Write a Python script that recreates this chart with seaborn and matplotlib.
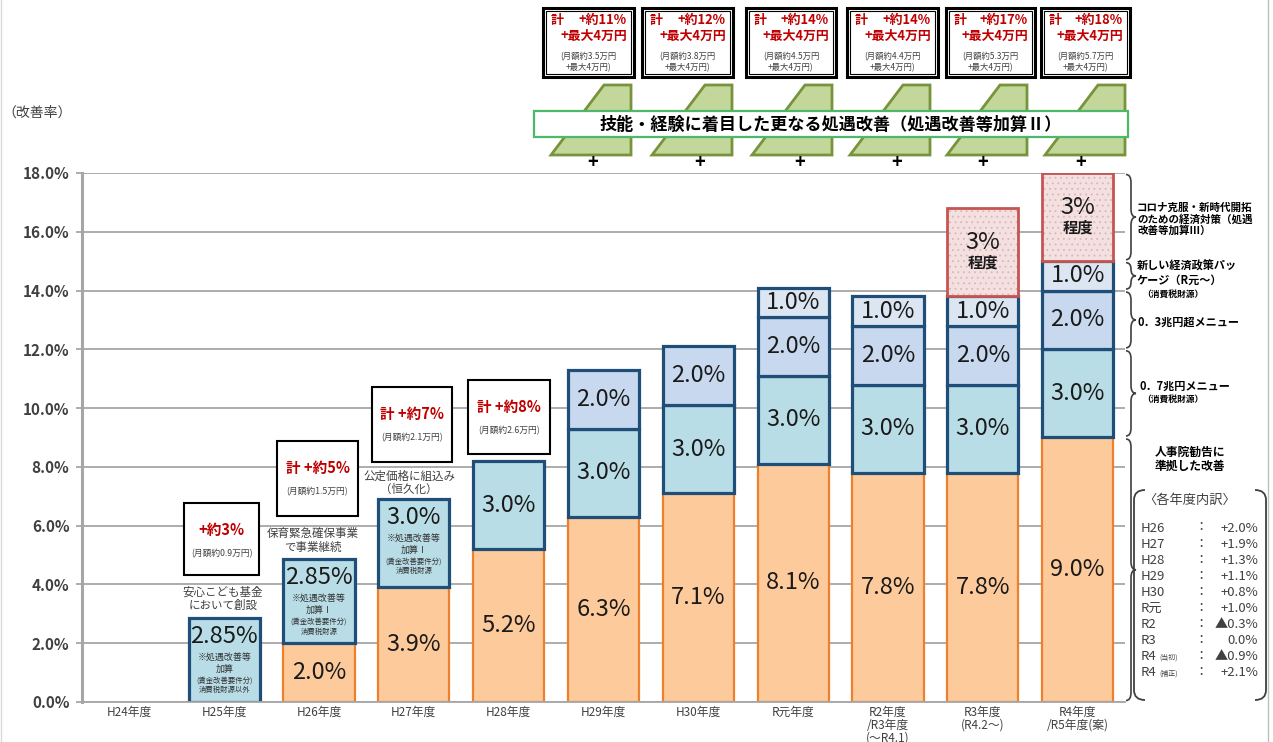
import numpy as np
import pandas as pd
import matplotlib.pyplot as plt
import seaborn as sns
from matplotlib.patches import Rectangle, Polygon, PathPatch
from matplotlib.path import Path

# データ
years = ["H24年度", "H25年度", "H26年度", "H27年度", "H28年度", "H29年度", "H30年度",
         "R元年度", "R2年度\n/R3年度\n(～R4.1)", "R3年度\n(R4.2～)", "R4年度\n/R5年度(案)"]
jinjiin = [0, 0, 2.0, 3.9, 5.2, 6.3, 7.1, 8.1, 7.8, 7.8, 9.0]
kasan1 = [0, 2.85, 2.85, 3.0, 3.0, 3.0, 3.0, 3.0, 3.0, 3.0, 3.0]
menu03 = [0, 0, 0, 0, 0, 2.0, 2.0, 2.0, 2.0, 2.0, 2.0]
keizai = [0, 0, 0, 0, 0, 0, 0, 1.0, 1.0, 1.0, 1.0]
corona = [0, 0, 0, 0, 0, 0, 0, 0, 0, 3.0, 3.0]

early_rate = ["+約3%", "計 +約5%", "計 +約7%", "計 +約8%"]
early_month = ["(月額約0.9万円)", "(月額約1.5万円)", "(月額約2.1万円)", "(月額約2.6万円)"]
top_rate = ["+約11%", "+約12%", "+約14%", "+約14%", "+約17%", "+約18%"]
top_month = ["(月額約3.5万円", "(月額約3.8万円", "(月額約4.5万円",
             "(月額約4.4万円", "(月額約5.3万円", "(月額約5.7万円"]
bd_year = ["H26", "H27", "H28", "H29", "H30", "R元", "R2", "R3", "R4", "R4"]
bd_note = ["", "", "", "", "", "", "", "", "(当初)", "(補正)"]
bd_value = ["+2.0%", "+1.9%", "+1.3%", "+1.1%", "+0.8%", "+1.0%", "▲0.3%", "0.0%", "▲0.9%", "+2.1%"]

sns.set_theme(style="white")
plt.rcParams["font.family"] = ["Noto Sans CJK JP", "DejaVu Sans"]
plt.rcParams["hatch.linewidth"] = 0.6

TXT = "#404040"
RED = "#C00000"
GRID = "#A6A6A6"

fig = plt.figure(figsize=(12.73, 7.42), dpi=100)
ax = fig.add_axes([82 / 1273, 1 - 702 / 742, (1125 - 82) / 1273, (702 - 173) / 742])

# 積み上げ
layers = [
    ("jinjiin", jinjiin, "#FDCA9B", "#EE7F2D", 1.6),
    ("kasan1", kasan1, "#B8DDE7", "#1F4E79", 2.3),
    ("menu03", menu03, "#C8D8EF", "#1F4E79", 2.3),
    ("keizai", keizai, "#DCE6F3", "#1F4E79", 2.3),
    ("corona", corona, "#F5DEDD", "#C55452", 2.0),
]
rows = []
bottom = np.zeros(len(years))
for name, vals, *_ in layers:
    for i, v in enumerate(vals):
        rows.append({"year": years[i], "idx": i, "layer": name, "value": v, "bottom": bottom[i]})
    bottom = bottom + np.array(vals)
df = pd.DataFrame(rows)

for name, vals, fc, ec, lw in layers:
    sub = df[(df["layer"] == name) & (df["value"] > 0)]
    if name == "corona":
        sns.barplot(data=sub, x="year", y="value", order=years, bottom=sub["bottom"].values,
                    width=0.75, errorbar=None, color=fc, edgecolor="#E4B2B1",
                    linewidth=0, hatch="...", ax=ax)
        sns.barplot(data=sub, x="year", y="value", order=years, bottom=sub["bottom"].values,
                    width=0.75, errorbar=None, color=ec, fill=False, linewidth=lw, ax=ax)
    else:
        sns.barplot(data=sub, x="year", y="value", order=years, bottom=sub["bottom"].values,
                    width=0.75, errorbar=None, color=fc, edgecolor=ec, linewidth=lw,
                    saturation=1, ax=ax)

# 棒の中の数値
notes = {
    1: ["※処遇改善等", "加算", "(賃金改善要件分)", "消費税財源以外"],
    2: ["※処遇改善等", "加算Ⅰ", "(賃金改善要件分)", "消費税財源"],
    3: ["※処遇改善等", "加算Ⅰ", "(賃金改善要件分)", "消費税財源"],
}
note_dy = [39, 51, 62, 72]
note_fs = [6.5, 6.5, 5.3, 5.3]
for _, row in df[df["value"] > 0].iterrows():
    i, v, b = row["idx"], row["value"], row["bottom"]
    top = b + v
    if row["layer"] == "corona":
        ax.text(i, b + v / 2 + 0.32, "3%", ha="center", va="center", fontsize=17, color="#1a1a1a")
        ax.text(i, b + v / 2 - 0.35, "程度", ha="center", va="center", fontsize=11,
                fontweight="bold", color="#1a1a1a")
        continue
    label = "2.85%" if v == 2.85 else f"{v:.1f}%"
    if row["layer"] == "kasan1" and i in notes:
        ax.text(i, top - 0.62, label, ha="center", va="center", fontsize=17, color="#1a1a1a")
        for txt, dy, fs in zip(notes[i], note_dy, note_fs):
            ax.annotate(txt, xy=(i, top), xytext=(0, -dy * 0.72), textcoords="offset points",
                        ha="center", va="center", fontsize=fs, color="#333333")
    else:
        ax.text(i, b + v / 2, label, ha="center", va="center", fontsize=17, color="#1a1a1a")

# 軸
ax.set_xlim(-0.5, 10.5)
ax.set_ylim(0, 18)
ax.set_yticks(np.arange(0, 19, 2))
ax.set_yticklabels([f"{t:.1f}%" for t in np.arange(0, 19, 2)], fontsize=11,
                   fontweight="bold", color=TXT)
ax.set_xticks(range(len(years)))
ax.set_xticklabels(years, fontsize=8.5, color=TXT, linespacing=0.95)
ax.set_xticks(np.arange(-0.5, 11, 1), minor=True)
ax.tick_params(axis="x", which="major", length=0, pad=3)
ax.tick_params(axis="x", which="minor", length=4, width=1.2, color=GRID, direction="out")
ax.tick_params(axis="y", length=4, width=1.3, color=GRID, pad=5, left=True)
ax.yaxis.grid(True, color=GRID, lw=1.3)
ax.set_axisbelow(True)
ax.set_xlabel("")
ax.set_ylabel("")
for s in ["top", "right"]:
    ax.spines[s].set_visible(False)
ax.spines["left"].set_color(GRID)
ax.spines["left"].set_linewidth(2.2)
ax.spines["bottom"].set_color(GRID)
ax.spines["bottom"].set_linewidth(1.3)

# 注記レイヤー（ピクセル座標）
ov = fig.add_axes([0, 0, 1, 1], zorder=5)
ov.set_xlim(0, 1273)
ov.set_ylim(742, 0)
ov.axis("off")
ov.patch.set_visible(False)


def to_px(x, y):
    return ov.transData.inverted().transform(ax.transData.transform((x, y)))


ov.text(2, 113, "（改善率）", fontsize=10, color=TXT, va="center")
ov.plot([1268, 1268], [0, 742], color="#BFBFBF", lw=1)
ov.plot([1, 1], [0, 742], color="#D9D9D9", lw=1)

# H25〜H28 の枠
early_box = [(184, 503, 259, 575), (277, 441, 358, 516), (372, 387, 452, 462), (468, 380, 550, 454)]
for (x0, y0, x1, y1), r, m in zip(early_box, early_rate, early_month):
    ov.add_patch(Rectangle((x0, y0), x1 - x0, y1 - y0, fc="white", ec="black", lw=1.5))
    ov.text((x0 + x1) / 2, y0 + 27, r, ha="center", va="center", fontsize=10.5,
            fontweight="bold", color=RED)
    ov.text((x0 + x1) / 2, y0 + 51, m, ha="center", va="center", fontsize=6.3, color=TXT)

captions = [(223, 592, "安心こども基金", "において創設"), (313, 534, "保育緊急確保事業", "で事業継続"),
            (409, 476, "公定価格に組込み", "（恒久化）")]
for x, y, t1, t2 in captions:
    ov.text(x, y, t1, ha="center", va="center", fontsize=8.3, color=TXT)
    ov.text(x, y + 13.5, t2, ha="center", va="center", fontsize=8.3, color=TXT)

# 上段の枠・台形
top_box = [(543, 634), (642, 733), (746, 836), (847, 938), (946, 1035), (1041, 1130)]
trap_right = [631, 732, 832, 930, 1027, 1125]
plus_x = [593, 700, 800, 897, 983, 1081]
for (x0, x1), r, m in zip(top_box, top_rate, top_month):
    ov.add_patch(Rectangle((x0, 8), x1 - x0, 69, fc="white", ec="black", lw=2.2))
    ov.add_patch(Rectangle((x0 + 3, 11), x1 - x0 - 6, 63, fc="none", ec="black", lw=0.8))
    ov.text(x0 + 8, 20, "計", ha="left", va="center", fontsize=9.3, fontweight="bold", color=RED)
    ov.text(x1 - 7, 20, r, ha="right", va="center", fontsize=9.3, fontweight="bold", color=RED)
    ov.text(x1 - 7, 36, "+最大4万円", ha="right", va="center", fontsize=9.3,
            fontweight="bold", color=RED)
    ov.text((x0 + x1) / 2, 57, m, ha="center", va="center", fontsize=6, color=TXT)
    ov.text((x0 + x1) / 2, 68, "+最大4万円)", ha="center", va="center", fontsize=6, color=TXT)
for R in trap_right:
    ov.add_patch(Polygon([(R - 80, 155), (R - 27, 85), (R, 85), (R, 155)],
                         fc="#C4D79B", ec="#77933C", lw=2))
for x in plus_x:
    ov.text(x, 163, "+", ha="center", va="center", fontsize=13, fontweight="bold", color="black")
ov.add_patch(Rectangle((534, 111), 594, 26, fc="white", ec="#4DB86A", lw=1.6))
ov.text(831, 124.5, "技能・経験に着目した更なる処遇改善（処遇改善等加算Ⅱ）", ha="center",
        va="center", fontsize=12.3, fontweight="bold", color="black")


# 右側の中括弧
def brace(x, y0, y1, w=10):
    ym = (y0 + y1) / 2
    r = min(8, (y1 - y0) / 4)
    h = x + w / 2
    verts = [(x, y0), (h, y0), (h, y0 + r), (h, ym - r), (h, ym), (x + w, ym),
             (h, ym), (h, ym + r), (h, y1 - r), (h, y1), (x, y1)]
    codes = [Path.MOVETO, Path.CURVE3, Path.CURVE3, Path.LINETO, Path.CURVE3, Path.CURVE3,
             Path.CURVE3, Path.CURVE3, Path.LINETO, Path.CURVE3, Path.CURVE3]
    ov.add_patch(PathPatch(Path(verts, codes), fc="none", ec=TXT, lw=1.2))


edges = np.cumsum([0, jinjiin[-1], kasan1[-1], menu03[-1], keizai[-1], corona[-1]])
for lo, hi in zip(edges[:-1], edges[1:]):
    y_hi = to_px(10.5, hi)[1]
    y_lo = to_px(10.5, lo)[1]
    brace(1126, y_hi + 1.5, y_lo - 1.5)

ov.text(1137, 203, "コロナ克服・新時代開拓\nのための経済対策（処遇\n改善等加算Ⅲ）", ha="left",
        va="top", fontsize=7.6, fontweight="bold", color="black", linespacing=1.05)
ov.text(1137, 260, "新しい経済政策パッ\nケージ（R元～）", ha="left", va="top", fontsize=8,
        fontweight="bold", color="black", linespacing=1.05)
ov.text(1142, 294, "（消費税財源）", ha="left", va="center", fontsize=6.3, fontweight="bold",
        color="black")
ov.text(1137, 322, "0．3兆円超メニュー", ha="left", va="center", fontsize=8,
        fontweight="bold", color="black")
ov.text(1140, 386, "0．7兆円メニュー", ha="left", va="center", fontsize=8,
        fontweight="bold", color="black")
ov.text(1142, 399, "（消費税財源）", ha="left", va="center", fontsize=6.3, fontweight="bold",
        color="black")
ov.text(1190, 459, "人事院勧告に\n準拠した改善", ha="center", va="center", fontsize=8.5,
        fontweight="bold", color="black", linespacing=1.1)

# 各年度内訳
for xa, xb in [(1145, 1134), (1255, 1266)]:
    verts = [(xa, 490), (xb, 490), (xb, 500), (xb, 690), (xb, 700), (xa, 700)]
    codes = [Path.MOVETO, Path.CURVE3, Path.CURVE3, Path.LINETO, Path.CURVE3, Path.CURVE3]
    ov.add_patch(PathPatch(Path(verts, codes), fc="none", ec=TXT, lw=1.3))
ov.text(1143, 500, "〈各年度内訳〉", ha="left", va="center", fontsize=9.5, color=TXT)
for k, (yr, nt, val) in enumerate(zip(bd_year, bd_note, bd_value)):
    y = 528 + k * 16.1
    ov.text(1141, y, yr, ha="left", va="center", fontsize=9.5, color=TXT)
    if nt:
        ov.text(1159, y + 1, nt, ha="left", va="center", fontsize=5, color=TXT)
    ov.text(1201, y, "：", ha="center", va="center", fontsize=9.5, color=TXT)
    ov.text(1258, y, val, ha="right", va="center", fontsize=9.5, color=TXT)

fig.savefig("out.png", dpi=100)
